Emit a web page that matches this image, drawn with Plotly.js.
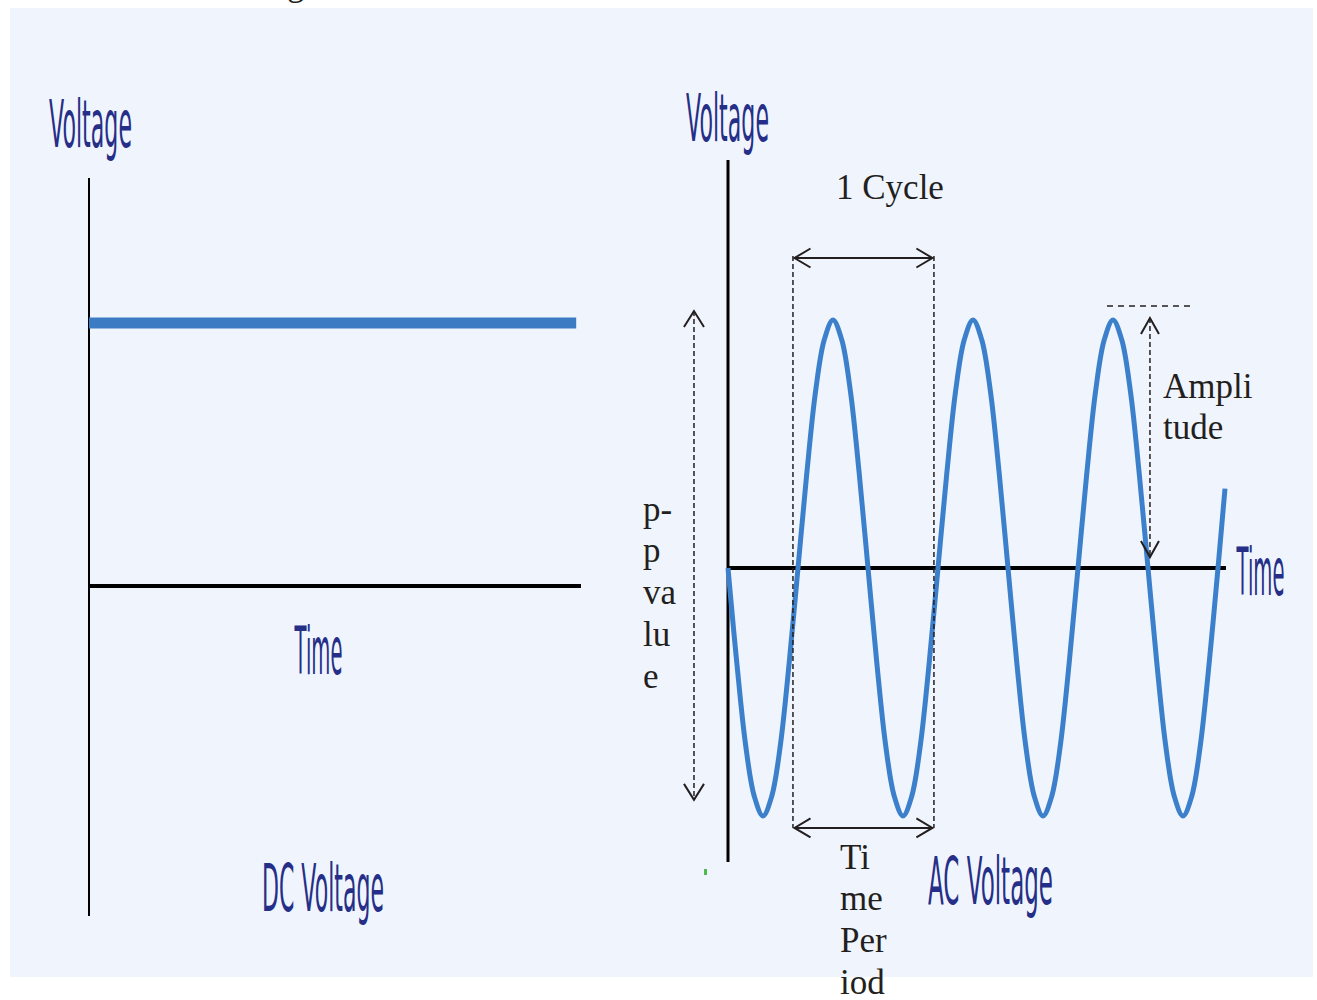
<!DOCTYPE html>
<html>
<head>
<meta charset="utf-8">
<script src="https://cdn.plot.ly/plotly-3.0.1.min.js"></script>
<style>
html,body{margin:0;padding:0;background:#ffffff;}
#chart{width:1317px;height:1000px;}
</style>
</head>
<body>
<div id="chart"></div>
<script>
// ---------- DATA ----------
const dcTime = [0, 3.48];
const dcVoltage = [1.06, 1.06];

const acTime = [
  0, 0.0625, 0.125, 0.1875, 0.25, 0.3125, 0.375, 0.4375,
  0.5, 0.5625, 0.625, 0.6875, 0.75, 0.8125, 0.875, 0.9375,
  1, 1.0625, 1.125, 1.1875, 1.25, 1.3125, 1.375, 1.4375,
  1.5, 1.5625, 1.625, 1.6875, 1.75, 1.8125, 1.875, 1.9375,
  2, 2.0625, 2.125, 2.1875, 2.25, 2.3125, 2.375, 2.4375,
  2.5, 2.5625, 2.625, 2.6875, 2.75, 2.8125, 2.875, 2.9375,
  3, 3.0625, 3.125, 3.1875, 3.25, 3.3125, 3.375, 3.4375,
  3.5, 3.55];
const acVoltage = [
  0, -0.38, -0.71, -0.92, -1, -0.92, -0.71, -0.38,
  0, 0.38, 0.71, 0.92, 1, 0.92, 0.71, 0.38,
  0, -0.38, -0.71, -0.92, -1, -0.92, -0.71, -0.38,
  0, 0.38, 0.71, 0.92, 1, 0.92, 0.71, 0.38,
  0, -0.38, -0.71, -0.92, -1, -0.92, -0.71, -0.38,
  0, 0.38, 0.71, 0.92, 1, 0.92, 0.71, 0.38,
  0, -0.38, -0.71, -0.92, -1, -0.92, -0.71, -0.38,
  0, 0.32];

const axisLabels = ['Voltage', 'Time', 'DC Voltage', 'AC Voltage'];
const cycleLabel = '1 Cycle';
const ppLines = ['p-', 'p', 'va', 'lu', 'e'];
const periodLines = ['Ti', 'me', 'Per', 'iod'];
const ampLines = ['Ampli', 'tude'];

// ---------- LAYOUT HELPERS ----------
const W = 1317, H = 1000;
const px = x => x / W;
const py = y => 1 - y / H;
const navy = '#262f87';
const ink = '#231f20';
const blue = '#3c80cb';

const condensedFont = {family: 'DejaVu Sans', size: 66, color: navy};
const serifFont = {family: 'Liberation Serif', size: 35, color: ink};
const squeeze = {'Voltage': 83, 'Time': 48, 'DC Voltage': 122, 'AC Voltage': 125};

function condLabel(text, cx, baseline) {
  return {text: text, xref: 'paper', yref: 'paper', x: px(cx), y: py(baseline - 23),
          xanchor: 'center', yanchor: 'middle', showarrow: false, font: condensedFont,
          width: squeeze[text] + 8};
}
function serifLabel(text, left, baseline) {
  return {text: text, xref: 'paper', yref: 'paper', x: px(left - 2), y: py(baseline - 12),
          xanchor: 'left', yanchor: 'middle', showarrow: false, font: serifFont};
}
function chevron(tipT, tipV, backT, backV, sideT, sideV, xr, yr) {
  return {type: 'path', xref: xr, yref: yr,
          path: 'M' + (tipT + backT + sideT) + ',' + (tipV + backV + sideV) +
                ' L' + tipT + ',' + tipV +
                ' L' + (tipT + backT - sideT) + ',' + (tipV + backV - sideV),
          line: {color: ink, width: 2}};
}
function seg(x0, y0, x1, y1, w, dash, col) {
  return {type: 'line', xref: 'x2', yref: 'y2', x0: x0, y0: y0, x1: x1, y1: y1,
          line: {color: col || ink, width: w, dash: dash || 'solid'}};
}

// AC units: 140 px per cycle, 248 px per volt
const tB = 16 / 140, vB = 16 / 248;

const shapes = [
  {type: 'rect', xref: 'paper', yref: 'paper', x0: px(10), x1: px(1313), y0: py(977), y1: py(8),
   fillcolor: '#f0f5fd', line: {width: 0}, layer: 'below'},
  // DC axes
  {type: 'line', xref: 'x', yref: 'y', x0: 0, x1: 0, y0: -1.331, y1: 1.645, line: {color: '#000', width: 2}, layer: 'below'},
  {type: 'line', xref: 'x', yref: 'y', x0: 0, x1: 3.514, y0: 0, y1: 0, line: {color: '#000', width: 4}, layer: 'below'},
  // AC axes
  {type: 'line', xref: 'x2', yref: 'y2', x0: 0, x1: 0, y0: -1.185, y1: 1.645, line: {color: '#000', width: 3}, layer: 'below'},
  {type: 'line', xref: 'x2', yref: 'y2', x0: 0, x1: 3.557, y0: 0, y1: 0, line: {color: '#000', width: 4}, layer: 'below'},
  // cycle guides
  seg(0.464, 1.258, 0.464, -1.048, 1.5, '5px,3px'),
  seg(1.471, 1.258, 1.471, -1.048, 1.5, '5px,3px'),
  seg(0.475, 1.25, 1.46, 1.25, 2),
  chevron(0.475, 1.25, tB, 0, 0, 9.5 / 248, 'x2', 'y2'),
  chevron(1.46, 1.25, -tB, 0, 0, 9.5 / 248, 'x2', 'y2'),
  seg(0.475, -1.048, 1.46, -1.048, 2),
  chevron(0.475, -1.048, tB, 0, 0, 9.5 / 248, 'x2', 'y2'),
  chevron(1.46, -1.048, -tB, 0, 0, 9.5 / 248, 'x2', 'y2'),
  // peak-to-peak
  seg(-0.243, 1.036, -0.243, -0.935, 1.5, '5px,3px'),
  chevron(-0.243, 1.036, 0, -vB, 10 / 140, 0, 'x2', 'y2'),
  chevron(-0.243, -0.935, 0, vB, 10 / 140, 0, 'x2', 'y2'),
  // amplitude
  seg(2.707, 1.056, 3.336, 1.056, 1.5, '6px,5px'),
  seg(3.014, 1.008, 3.014, 0.044, 1.5, '5px,3px'),
  chevron(3.014, 1.008, 0, -vB, 9 / 140, 0, 'x2', 'y2'),
  chevron(3.014, 0.044, 0, vB, 9 / 140, 0, 'x2', 'y2'),
  // stray green mark
  {type: 'rect', xref: 'paper', yref: 'paper', x0: px(704), x1: px(707), y0: py(875), y1: py(869),
   fillcolor: '#4cbb4c', line: {width: 0}}
];

const annotations = [
  condLabel('Voltage', 90, 147),
  condLabel('Voltage', 727, 141),
  condLabel('Time', 318, 674),
  condLabel('DC Voltage', 323, 911),
  condLabel('AC Voltage', 990.5, 904),
  condLabel('Time', 1259.5, 595),
  serifLabel(cycleLabel, 836, 199),
  {text: 'g', xref: 'paper', yref: 'paper', x: px(296), y: py(-5 - 12), xanchor: 'center', yanchor: 'middle',
   showarrow: false, font: serifFont}
];
ppLines.forEach((t, i) => annotations.push(serifLabel(t, 643, 521 + i * 41.75)));
periodLines.forEach((t, i) => annotations.push(serifLabel(t, 840, 869 + i * 41.7)));
ampLines.forEach((t, i) => annotations.push(serifLabel(t, 1163, 398 + i * 41.5)));

const data = [
  {x: dcTime, y: dcVoltage, xaxis: 'x', yaxis: 'y', mode: 'lines',
   line: {color: '#3b7bc4', width: 11}, hoverinfo: 'skip'},
  {x: acTime, y: acVoltage, xaxis: 'x2', yaxis: 'y2', mode: 'lines',
   line: {color: blue, width: 5, shape: 'spline', smoothing: 1}, hoverinfo: 'skip'}
];

const hiddenAxis = {showgrid: false, zeroline: false, showticklabels: false, ticks: '', showline: false, fixedrange: true};

const layout = {
  width: W, height: H,
  margin: {l: 0, r: 0, t: 0, b: 0, pad: 0},
  paper_bgcolor: '#ffffff',
  plot_bgcolor: 'rgba(0,0,0,0)',
  showlegend: false,
  xaxis: Object.assign({domain: [0, 600 / W], range: [-89 / 140, (600 - 89) / 140]}, hiddenAxis),
  yaxis: Object.assign({domain: [0, 1], range: [(586 - 1000) / 248, 586 / 248], anchor: 'x'}, hiddenAxis),
  xaxis2: Object.assign({domain: [600 / W, 1], range: [(600 - 728) / 140, (1317 - 728) / 140], anchor: 'y2'}, hiddenAxis),
  yaxis2: Object.assign({domain: [0, 1], range: [(568 - 1000) / 248, 568 / 248], anchor: 'x2'}, hiddenAxis),
  shapes: shapes,
  annotations: annotations
};

Plotly.newPlot('chart', data, layout, {staticPlot: true, displayModeBar: false}).then(function () {
  document.querySelectorAll('.annotation-text').forEach(function (el) {
    const t = el.textContent;
    if (squeeze[t] && el.style.fontFamily.indexOf('DejaVu') >= 0) {
      el.setAttribute('textLength', squeeze[t]);
      el.setAttribute('lengthAdjust', 'spacingAndGlyphs');
    }
  });
});
</script>
</body>
</html>
